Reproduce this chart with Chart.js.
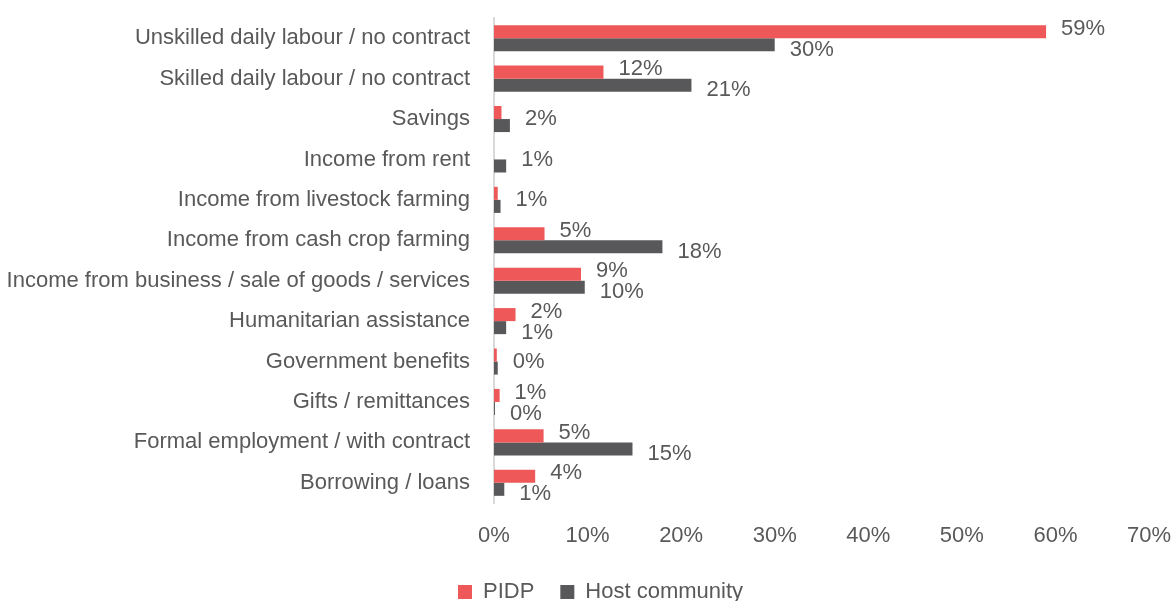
<!DOCTYPE html>
<html>
<head>
<meta charset="utf-8">
<script src="https://cdn.jsdelivr.net/npm/chart.js@4"></script>
<style>
    html, body { margin: 0; padding: 0; background: #ffffff; }
    #wrap { width: 1172px; height: 601px; }
</style>
</head>
<body>
<div id="wrap"><canvas id="incomeChart" width="1172" height="601"></canvas></div>
<script>
const categories = [
    'Unskilled daily labour / no contract',
    'Skilled daily labour / no contract',
    'Savings',
    'Income from rent',
    'Income from livestock farming',
    'Income from cash crop farming',
    'Income from business / sale of goods / services',
    'Humanitarian assistance',
    'Government benefits',
    'Gifts / remittances',
    'Formal employment / with contract',
    'Borrowing / loans'
];
const pidp = [59.0, 11.7, 0.8, null, 0.4, 5.4, 9.3, 2.3, 0.3, 0.6, 5.3, 4.4];
const host = [30.0, 21.1, 1.7, 1.3, 0.7, 18.0, 9.7, 1.3, 0.4, 0.1, 14.8, 1.1];
// PIDP bars that carry no value label
const pidpUnlabelled = ['Savings', 'Income from livestock farming', 'Government benefits'];
const xTicks = [0, 10, 20, 30, 40, 50, 60, 70];

const FONT = "'Liberation Sans', Arial, sans-serif";
const TEXT = '#595959';

function pidpLabelled(i) {
    return pidp[i] !== null && !pidpUnlabelled.includes(categories[i]);
}

// value labels at the end of each bar; a lone label sits on the category centre
const valueLabels = {
    id: 'valueLabels',
    afterDatasetsDraw(chart) {
        const ctx = chart.ctx;
        ctx.save();
        ctx.font = '22px ' + FONT;
        ctx.fillStyle = TEXT;
        ctx.textAlign = 'left';
        ctx.textBaseline = 'middle';
        chart.data.datasets.forEach(function (ds, di) {
            const meta = chart.getDatasetMeta(di);
            meta.data.forEach(function (bar, i) {
                const v = ds.data[i];
                if (v === null || v === undefined) return;
                if (di === 0 && !pidpLabelled(i)) return;
                let shift = di === 0 ? -3 : 5;
                if (di === 1 && !pidpLabelled(i)) shift = -bar.height / 2;
                ctx.fillText(Math.round(v) + '%', bar.x + 15, bar.y + shift);
            });
        });
        ctx.restore();
    }
};

// nudge the legend row a little to the right
const legendShift = {
    id: 'legendShift',
    afterLayout(chart) {
        if (chart.legend) {
            chart.legend.left += 26;
            chart.legend.right += 26;
        }
    }
};

new Chart(document.getElementById('incomeChart'), {
    type: 'bar',
    data: {
        labels: categories,
        datasets: [
            { label: 'PIDP', data: pidp, backgroundColor: '#EE5859' },
            { label: 'Host community', data: host, backgroundColor: '#58585A' }
        ]
    },
    options: {
        indexAxis: 'y',
        responsive: false,
        animation: false,
        barPercentage: 1,
        categoryPercentage: 0.645,
        layout: { padding: { left: 0, right: 23, top: 18, bottom: -12 } },
        scales: {
            x: {
                min: 0,
                max: 70,
                afterBuildTicks(scale) {
                    scale.ticks = xTicks.map(function (v) { return { value: v }; });
                },
                afterFit(scale) {
                    scale.height = 52;
                    scale.paddingLeft = 0;
                    scale.paddingRight = 0;
                },
                grid: { display: false, drawTicks: false },
                border: { display: false },
                ticks: {
                    padding: 20,
                    color: TEXT,
                    font: { family: FONT, size: 22 },
                    callback: function (v) { return v + '%'; }
                }
            },
            y: {
                afterFit(scale) {
                    scale.width = 494;
                    scale.paddingTop = 0;
                    scale.paddingBottom = 0;
                },
                grid: { display: false, drawTicks: false },
                border: { display: true, color: '#D9D9D9', width: 2 },
                ticks: {
                    padding: 24,
                    color: TEXT,
                    autoSkip: false,
                    font: { family: FONT, size: 22 }
                }
            }
        },
        plugins: {
            legend: {
                position: 'bottom',
                labels: {
                    color: TEXT,
                    boxWidth: 14,
                    boxHeight: 14,
                    padding: 26,
                    font: { family: FONT, size: 22 }
                }
            },
            tooltip: { enabled: false }
        }
    },
    plugins: [valueLabels, legendShift]
});
</script>
</body>
</html>
